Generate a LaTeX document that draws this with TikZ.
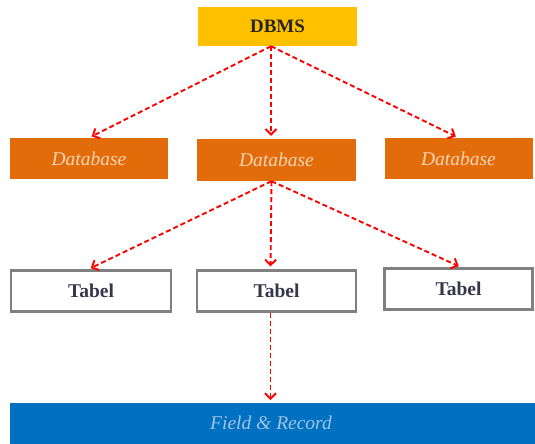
\documentclass[tikz,border=0pt]{standalone}
\usepackage{fontspec}
\setmainfont{Liberation Serif}
\usetikzlibrary{positioning}
\usetikzlibrary{arrows.meta}

\definecolor{dbmsyellow}{RGB}{255,192,0}
\definecolor{dborange}{RGB}{227,108,10}
\definecolor{dbtext}{RGB}{250,212,180}
\definecolor{frblue}{RGB}{0,112,192}
\definecolor{frtext}{RGB}{160,196,230}
\definecolor{tbtext}{RGB}{55,55,75}
\definecolor{tbline}{RGB}{128,128,128}

\tikzset{
  box/.style={minimum height=41pt, inner sep=0pt, font=\fontsize{19.5}{22}\selectfont},
  dbmsbox/.style={box, fill=dbmsyellow, text=black!85, font=\fontsize{19}{22}\selectfont\bfseries},
  dbbox/.style={box, fill=dborange, text=dbtext, font=\fontsize{19.5}{22}\selectfont\itshape},
  tabbox/.style={box, draw=tbline, line width=2.2pt, fill=white, text=tbtext, font=\fontsize{19.5}{22}\selectfont\bfseries},
  frbox/.style={box, fill=frblue, text=frtext, font=\fontsize{19.5}{22}\selectfont\itshape},
  link/.style={draw=red, dashed, dash pattern=on 5pt off 3pt, line width=1.9pt,
    -{Straight Barb[length=5.5pt,width=11pt,line width=1.9pt]}, shorten >=3pt}
}

\begin{document}
\begin{tikzpicture}[x=1pt,y=-1pt]
  \clip (0,0) rectangle (535,444);
  \fill[white] (0,0) rectangle (535,444);

  % top level
  \node[dbmsbox, minimum width=159pt, minimum height=39pt] (dbms) at (277.5,26.5) {DBMS};

  % databases
  \node[dbbox, minimum width=158pt] (db1) at (89,158.5) {Database};
  \node[dbbox, minimum width=159pt, minimum height=42pt] (db2) at (276.5,160) {Database};
  \node[dbbox, minimum width=148pt] (db3) at (458.5,158.5) {Database};

  % tables
  \node[tabbox, minimum width=160pt] (tb1) at (91,291) {Tabel};
  \node[tabbox, minimum width=159pt] (tb2) at (276.5,291) {Tabel};
  \node[tabbox, minimum width=148pt] (tb3) at (458.5,289) {Tabel};

  % field and record
  \node[frbox, minimum width=560pt, minimum height=50pt, anchor=north west] (fr) at (10,403) {};
  \node[frbox, fill=none] (frlabel) at (271,423) {Field \& Record};

  \coordinate (dbmsout) at ([xshift=-6.5pt]dbms.south);
  \coordinate (db2in) at ([xshift=-5.5pt]db2.north);
  \coordinate (db2out) at ([xshift=-5pt]db2.south);
  \coordinate (tb2in) at ([xshift=-6pt]tb2.north);
  \coordinate (tb2out) at ([xshift=-6pt]tb2.south);
  \coordinate (frin) at (fr.north -| tb2out);

  \draw[link] (dbmsout) -- (db1.north);
  \draw[link] (dbmsout) -- (db2in);
  \draw[link] (dbmsout) -- (db3.north);

  \draw[link] (db2out) -- ([xshift=-3pt]tb1.north);
  \draw[link] (db2out) -- (tb2in);
  \draw[link] (db2out) -- ([xshift=3pt]tb3.north);

  \draw[link] (tb2out) -- (frin);
\end{tikzpicture}
\end{document}
